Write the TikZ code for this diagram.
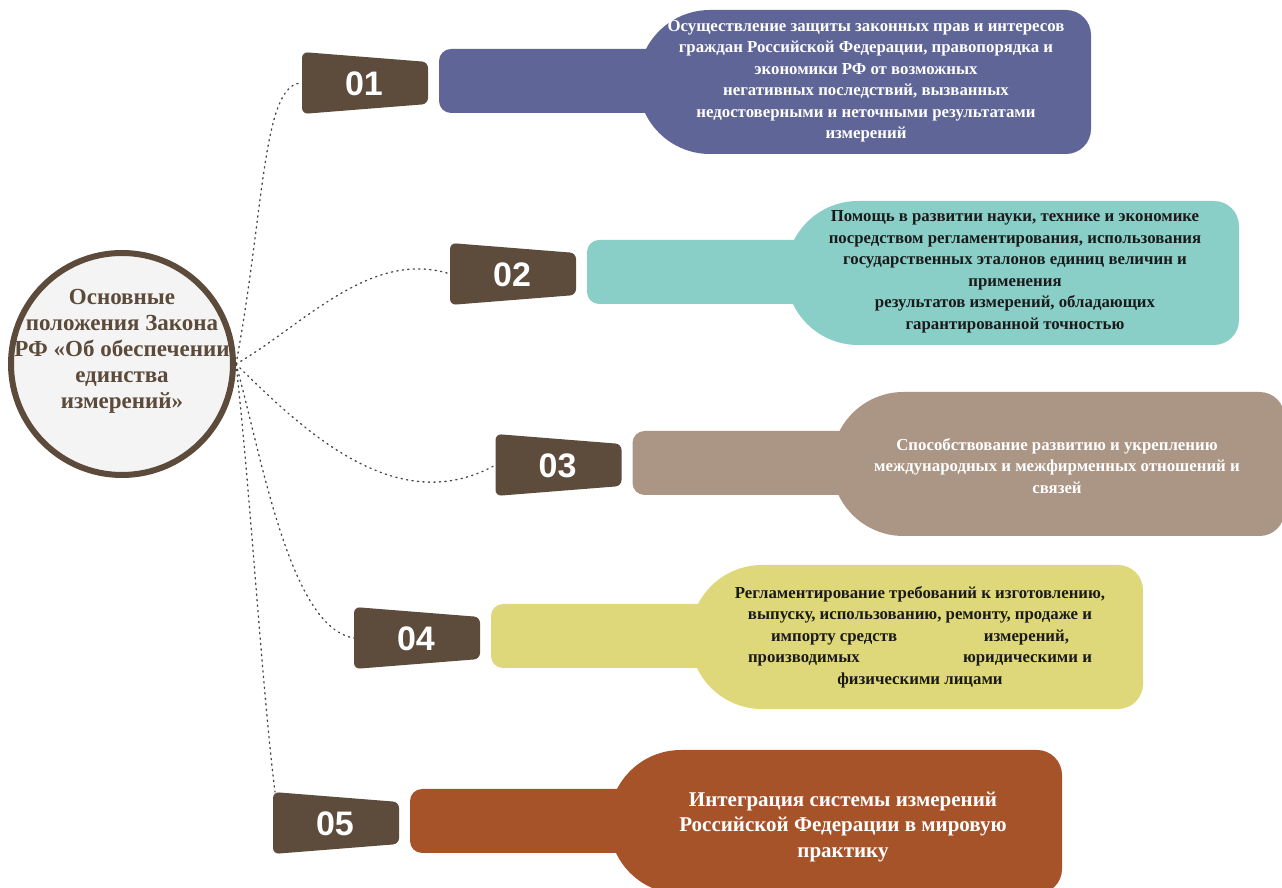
\documentclass[tikz,border=0pt]{standalone}
\usepackage{fontspec}
\setmainfont{Liberation Serif}
\newfontfamily\numfont{Liberation Sans}
\usepackage{xcolor}
\usetikzlibrary{positioning}
\definecolor{HubBrown}{RGB}{92,74,58}
\definecolor{BadgeBrown}{RGB}{93,76,60}
\definecolor{HubFill}{RGB}{244,244,244}
\definecolor{PurpleGray}{RGB}{95,102,151}
\definecolor{SoftTeal}{RGB}{137,207,200}
\definecolor{Taupe}{RGB}{171,149,133}
\definecolor{Straw}{RGB}{223,216,122}
\definecolor{Rust}{RGB}{166,83,42}
\definecolor{InkDark}{RGB}{26,26,26}

\tikzset{
	link/.style={line width=1.3pt, gray!55!black, dash pattern=on 1.3pt off 4.2pt, line cap=round},
	numtext/.style={text=white, font=\numfont\bfseries\fontsize{34}{34}\selectfont},
	bodytext/.style={align=center, font=\bfseries\fontsize{16.8}{21.5}\selectfont}
}

\begin{document}
\begin{tikzpicture}[x=1pt, y=1pt]
		\useasboundingbox (0,0) rectangle (1282,888);

		% central circle
		\node[circle, draw=HubBrown, line width=6pt, fill=HubFill, minimum size=222pt, inner sep=0pt] (hub) at (122,524) {};
		\node[text=HubBrown, align=center, font=\bfseries\fontsize{23}{26}\selectfont] (hubtext) at (122,537)
			{Основные\\положения Закона\\РФ «Об обеспечении\\единства\\измерений»};

		% badges and bottles
		\foreach \n/\cx/\cy/\col in {1/365/805/PurpleGray, 2/513/614/SoftTeal, 3/558.5/423/Taupe, 4/417/250/Straw, 5/336/65/Rust}{
			\fill[\col, rounded corners=12pt] ({\cx+74},{\cy-30}) rectangle ({\cx+310},{\cy+34});
			\fill[\col] ({\cx+345},{\cy+73}) -- ({\cx+701},{\cy+73})
				arc[start angle=90, end angle=0, radius=25] -- ({\cx+726},{\cy-46})
				arc[start angle=0, end angle=-90, radius=25] -- ({\cx+345},{\cy-71})
				arc[start angle=270, end angle=90, radius=72] -- cycle;
			\fill[BadgeBrown, rounded corners=6pt] ({\cx-63},{\cy+31}) -- ({\cx+63},{\cy+21})
				-- ({\cx+63},{\cy-21}) -- ({\cx-63},{\cy-31}) -- cycle;
			\node[numtext] (n\n) at ({\cx-1},{\cy-1}) {0\n};
			\coordinate (b\n) at ({\cx-63},\cy);
			\coordinate (c\n) at ({\cx-61},{\cy+31});
		}

		% dotted links
		\draw[link] (hub.east) .. controls (265,680) and (262,805) .. (b1);
		\draw[link] (hub.east) .. controls (300,560) and (370,640) .. (b2);
		\draw[link] (hub.east) .. controls (310,450) and (400,370) .. (b3);
		\draw[link] (hub.east) .. controls (262,430) and (290,260) .. (b4);
		\draw[link] (hub.east) .. controls (250,400) and (262,200) .. (c5);

		% texts
		\node[bodytext, text=white] (t1) at (866,807)
			{Осуществление защиты законных прав и интересов\\граждан Российской Федерации, правопорядка и\\экономики РФ от возможных\\негативных последствий, вызванных\\недостоверными и неточными результатами\\измерений};
		\node[bodytext, text=InkDark] (t2) at (1015,616)
			{Помощь в развитии науки, технике и экономике\\посредством регламентирования, использования\\государственных эталонов единиц величин и\\применения\\результатов измерений, обладающих\\гарантированной точностью};
		\node[bodytext, text=white] (t3) at (1057,422)
			{Способствование развитию и укреплению\\международных и межфирменных отношений и\\связей};
		\node[bodytext, text=InkDark] (t4) at (920,251)
			{Регламентирование требований к изготовлению,\\выпуску, использованию, ремонту, продаже и\\\makebox[298pt]{импорту средств\hfill измерений,}\\\makebox[344pt]{производимых\hfill юридическими и}\\физическими лицами};
		\node[bodytext, text=white, font=\bfseries\fontsize{21}{25.5}\selectfont] (t5) at (843,61)
			{Интеграция системы измерений\\Российской Федерации в мировую\\практику};
	\end{tikzpicture}
\end{document}
